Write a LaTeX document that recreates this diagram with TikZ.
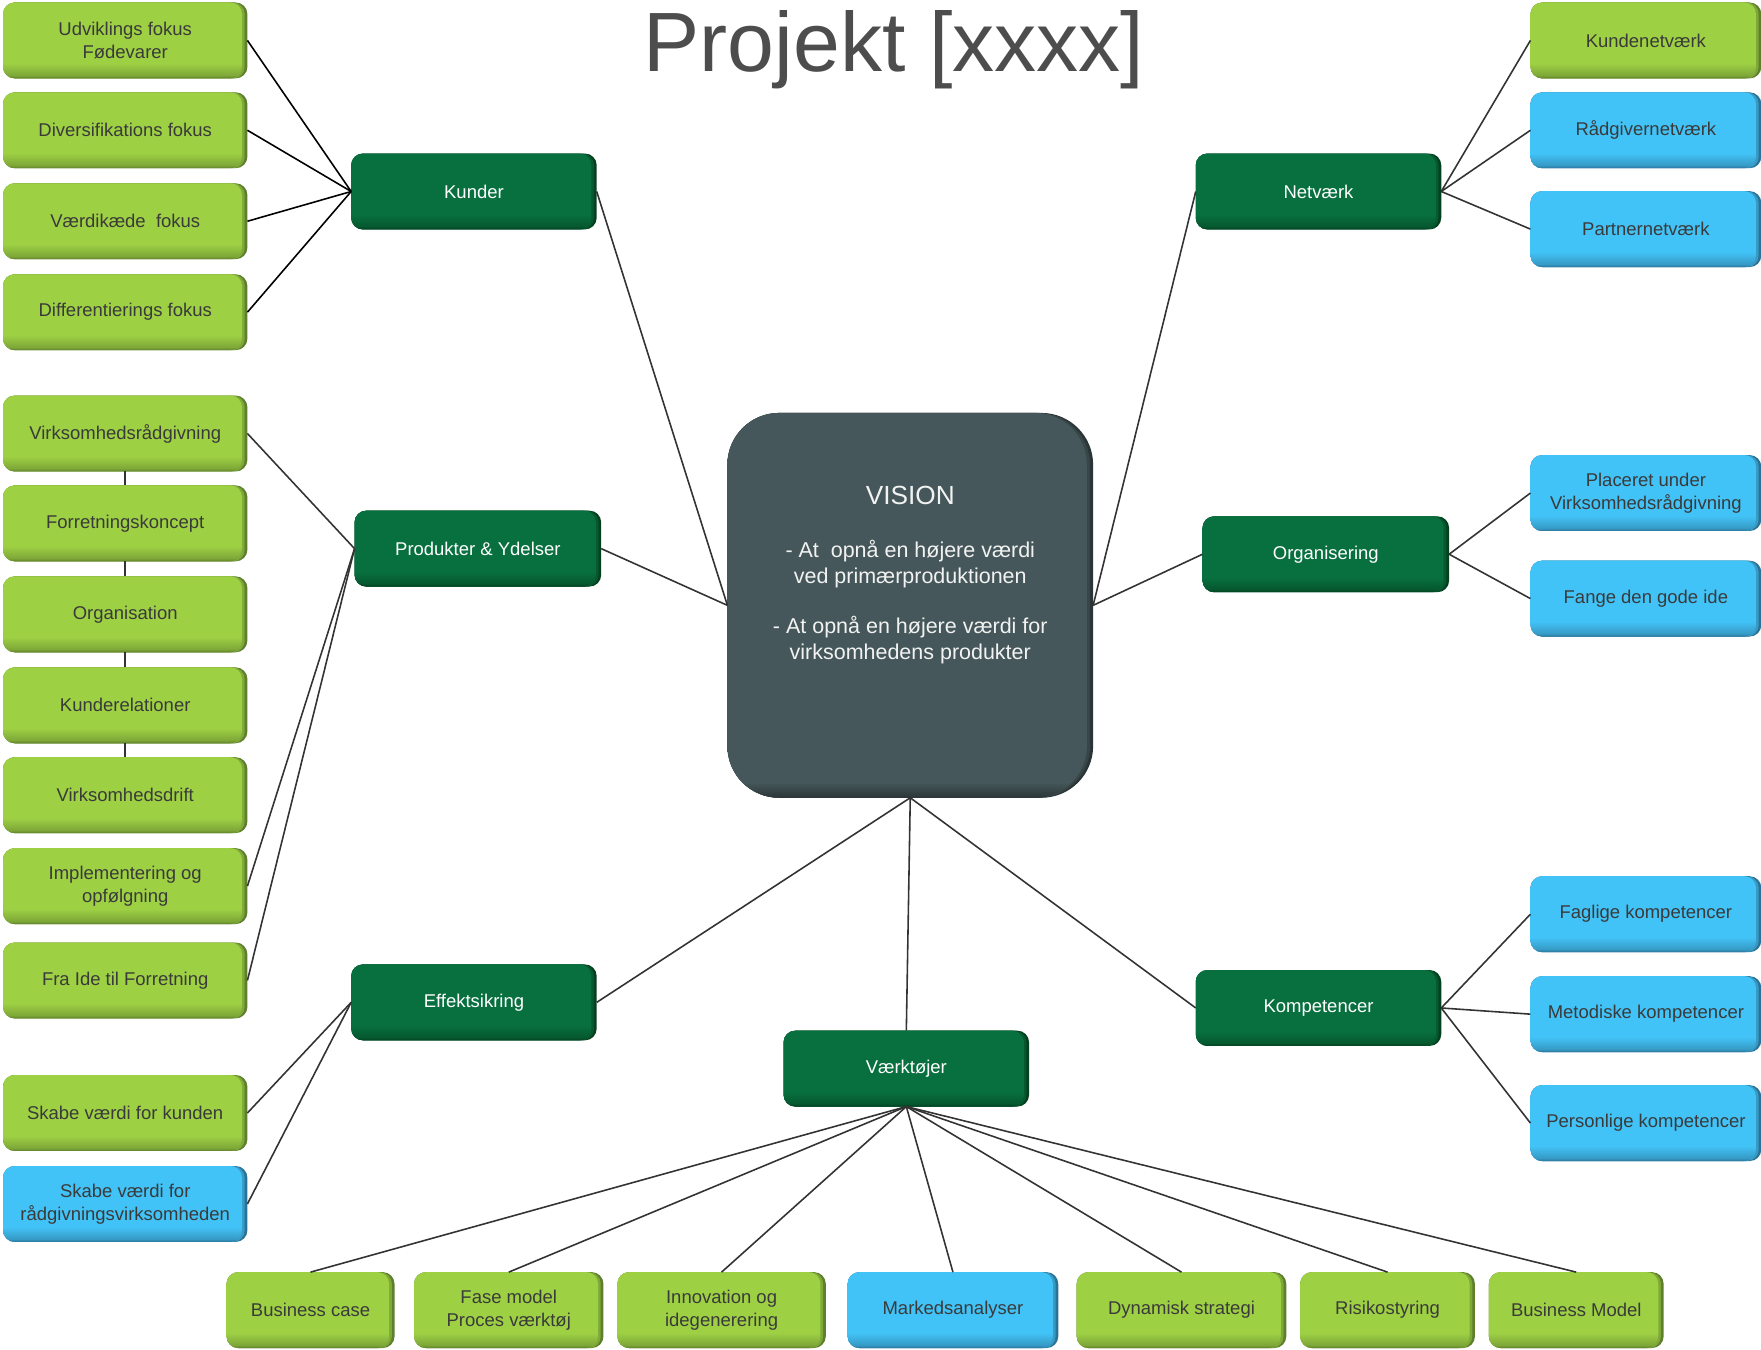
\documentclass[tikz,border=0pt]{standalone}
\usepackage{fontspec}
\setmainfont{Liberation Sans}
\definecolor{gMain}{HTML}{9ED044}
\definecolor{gDark}{HTML}{5E7F2C}
\definecolor{bMain}{HTML}{42C3F7}
\definecolor{bDark}{HTML}{2B7396}
\definecolor{dMain}{HTML}{08703F}
\definecolor{dDark}{HTML}{03401F}
\definecolor{vMain}{HTML}{45575A}
\definecolor{vDark}{HTML}{2A3537}
\colorlet{gMid}{gMain!50!gDark}
\colorlet{bMid}{bMain!50!bDark}
\colorlet{dMid}{dMain!50!dDark}
\colorlet{vMid}{vMain!50!vDark}
\definecolor{txt}{HTML}{3A3A3A}
\definecolor{ttl}{HTML}{4D4D4D}
\definecolor{lin}{HTML}{333333}
\definecolor{vText}{HTML}{F2F2F2}
\pgfdeclareverticalshading{gShade}{100bp}{color(0bp)=(gDark); color(25bp)=(gDark); color(27bp)=(gMid); color(35bp)=(gMain); color(100bp)=(gMain)}
\pgfdeclareverticalshading{bShade}{100bp}{color(0bp)=(bDark); color(25bp)=(bDark); color(27bp)=(bMid); color(35bp)=(bMain); color(100bp)=(bMain)}
\pgfdeclareverticalshading{dShade}{100bp}{color(0bp)=(dDark); color(25bp)=(dDark); color(27bp)=(dMid); color(35bp)=(dMain); color(100bp)=(dMain)}
\pgfdeclareverticalshading{vShade}{100bp}{color(0bp)=(vDark); color(25bp)=(vDark); color(27bp)=(vMain); color(100bp)=(vMain)}
\pgfdeclarelayer{background}
\pgfsetlayers{background,main}
\begin{document}
\begin{tikzpicture}[x=0.025cm,y=-0.025cm,
  bx/.style={minimum height=1.675cm, inner sep=0pt, align=center,
    font=\fontsize{11.7}{14.8}\selectfont},
  lbox/.style={bx, text=txt},
  dbox/.style={bx, text=white},
  bw/.style={minimum width=#1cm},
  con/.style={draw=lin, line width=1pt},
  blk/.style={draw=black, line width=1pt}]
\useasboundingbox (0,0) rectangle (1568,1202);

% title
\node[anchor=base, inner sep=0pt, text=ttl, font=\fontsize{53.3}{60}\selectfont] (title) at (796,64) {Projekt [xxxx]};

% left column
\node[lbox, bw=5.425] (L1) at (111.5,36) {Udviklings fokus\\Fødevarer};
\node[lbox, bw=5.425] (L2) at (111.5,116) {Diversifikations fokus};
\node[lbox, bw=5.425] (L3) at (111.5,197) {Værdikæde~ fokus};
\node[lbox, bw=5.425] (L4) at (111.5,278) {Differentierings fokus};
\node[lbox, bw=5.425] (L5) at (111.5,386) {Virksomhedsrådgivning};
\node[lbox, bw=5.425] (L6) at (111.5,466) {Forretningskoncept};
\node[lbox, bw=5.425] (L7) at (111.5,547) {Organisation};
\node[lbox, bw=5.425] (L8) at (111.5,628) {Kunderelationer};
\node[lbox, bw=5.425] (L9) at (111.5,708) {Virksomhedsdrift};
\node[lbox, bw=5.425] (L10) at (111.5,789) {Implementering og\\opfølgning};
\node[lbox, bw=5.425] (L11) at (111.5,873) {Fra Ide til Forretning};
\node[lbox, bw=5.425] (L12) at (111.5,991) {Skabe værdi for kunden};
\node[lbox, bw=5.425] (L13) at (111.5,1072) {Skabe værdi for\\rådgivningsvirksomheden};

% dark green hubs
\node[dbox, bw=5.45] (kunder) at (422,170.5) {Kunder};
\node[dbox, bw=5.475] (produkter) at (425.5,488.5) {Produkter \& Ydelser};
\node[dbox, bw=5.45] (effekt) at (422,892.5) {Effektsikring};
\node[dbox, bw=5.45] (vaerk) at (807,951.5) {Værktøjer};
\node[dbox, bw=5.45] (netvaerk) at (1174,170.5) {Netværk};
\node[dbox, bw=5.475] (organ) at (1180.5,493.5) {Organisering};
\node[dbox, bw=5.45] (kompet) at (1174,897.5) {Kompetencer};

% vision
\node[minimum width=8.125cm, minimum height=8.55cm, inner sep=0pt] (vision) at (810.5,539) {};
\node[anchor=north, inner sep=0pt, align=center, text=vText,
  font=\fontsize{13.6}{16.4}\selectfont] (visiontext) at (810.5,432.5)
  {{\fontsize{16.6}{16.4}\selectfont VISION}\\[17pt]
   - At~ opnå en højere værdi\\ ved primærproduktionen\\[15.6pt]
   - At opnå en højere værdi for\\ virksomhedens produkter};

% right column
\node[lbox, bw=5.125] (R1) at (1465.5,36) {Kundenetværk};
\node[lbox, bw=5.125] (R2) at (1465.5,116) {Rådgivernetværk};
\node[lbox, bw=5.125] (R3) at (1465.5,204) {Partnernetværk};
\node[lbox, bw=5.125] (R4) at (1465.5,439) {Placeret under\\Virksomhedsrådgivning};
\node[lbox, bw=5.125] (R5) at (1465.5,533) {Fange den gode ide};
\node[lbox, bw=5.125] (R6) at (1465.5,814) {Faglige kompetencer};
\node[lbox, bw=5.125] (R7) at (1465.5,903) {Metodiske kompetencer};
\node[lbox, bw=5.125] (R8) at (1465.5,1000) {Personlige kompetencer};

% bottom row
\node[lbox, bw=3.725] (B1) at (276.5,1166.5) {Business case};
\node[lbox, bw=4.2] (B2) at (453,1166.5) {Fase model\\Proces værktøj};
\node[lbox, bw=4.625] (B3) at (642.5,1166.5) {Innovation og\\idegenerering};
\node[lbox, bw=4.675] (B4) at (848.5,1166.5) {Markedsanalyser};
\node[lbox, bw=4.65] (B5) at (1052,1166.5) {Dynamisk strategi};
\node[lbox, bw=3.875] (B6) at (1235.5,1166.5) {Risikostyring};
\node[lbox, bw=3.875] (B7) at (1403.5,1166.5) {Business Model};

% box backgrounds
\begin{pgfonlayer}{background}
\foreach \n/\c in {L1/g,L2/g,L3/g,L4/g,L5/g,L6/g,L7/g,L8/g,L9/g,L10/g,L11/g,L12/g,L13/b,
  kunder/d,produkter/d,effekt/d,vaerk/d,netvaerk/d,organ/d,kompet/d,
  R1/g,R2/b,R3/b,R4/b,R5/b,R6/b,R7/b,R8/b,
  B1/g,B2/g,B3/g,B4/b,B5/g,B6/g,B7/g}{
  \fill[\c Dark, rounded corners=0.26cm] (\n.north west) rectangle (\n.south east);
  \fill[\c Mid, rounded corners=0.26cm] (\n.north west) rectangle ([xshift=-0.06cm]\n.south east);
  \shade[shading=\c Shade, rounded corners=0.26cm] (\n.north west) rectangle ([xshift=-0.12cm]\n.south east);
}
\fill[vDark, rounded corners=1.15cm] (vision.north west) rectangle (vision.south east);
\fill[vMid, rounded corners=1.15cm] (vision.north west) rectangle ([xshift=-0.07cm]vision.south east);
\shade[shading=vShade, rounded corners=1.15cm] (vision.north west) rectangle ([xshift=-0.14cm]vision.south east);
\end{pgfonlayer}

% connectors
\foreach \n in {L1,L2,L3,L4} \draw[blk] (kunder.west) -- (\n.east);
\draw[con] (kunder.east) -- (vision.west);
\foreach \n in {L5,L10,L11} \draw[con] (produkter.west) -- (\n.east);
\draw[con] (produkter.east) -- (vision.west);
\draw[con] (L5) -- (L6);
\draw[con] (L6) -- (L7);
\draw[con] (L7) -- (L8);
\draw[con] (L8) -- (L9);
\foreach \n in {L12,L13} \draw[con] (effekt.west) -- (\n.east);
\draw[con] (effekt.east) -- (vision.south);
\draw[con] (vaerk.north) -- (vision.south);
\foreach \n in {B1,B2,B3,B4,B5,B6,B7} \draw[con] (vaerk.south) -- (\n.north);
\draw[con] (netvaerk.west) -- (vision.east);
\foreach \n in {R1,R2,R3} \draw[con] (netvaerk.east) -- (\n.west);
\draw[con] (organ.west) -- (vision.east);
\foreach \n in {R4,R5} \draw[con] (organ.east) -- (\n.west);
\draw[con] (kompet.west) -- (vision.south);
\foreach \n in {R6,R7,R8} \draw[con] (kompet.east) -- (\n.west);
\end{tikzpicture}
\end{document}
